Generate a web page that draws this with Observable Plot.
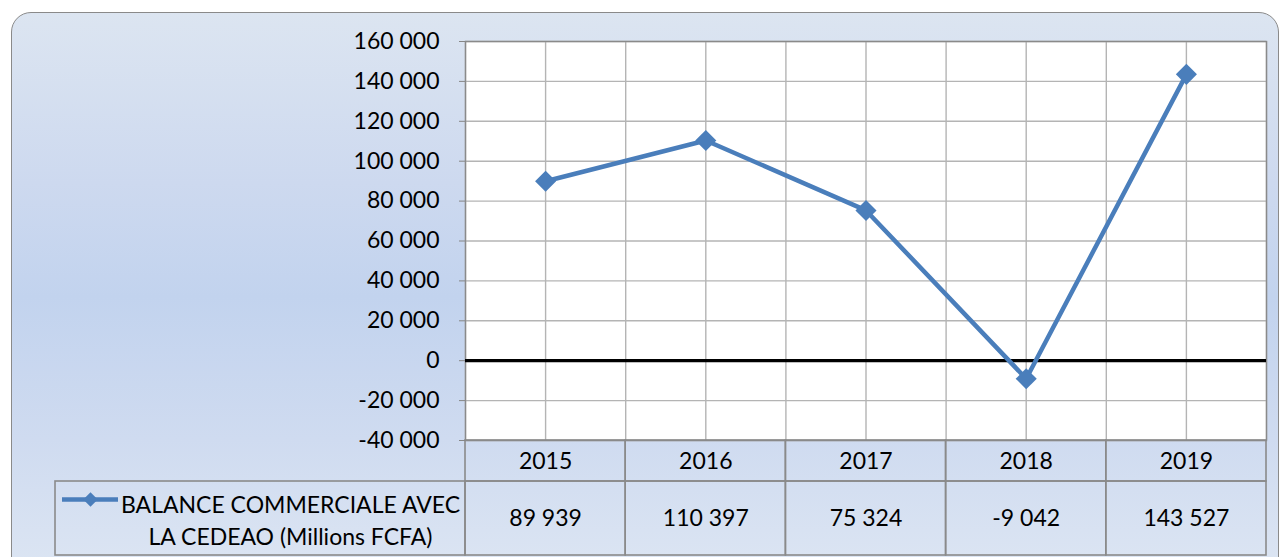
<!DOCTYPE html>
<html>
<head>
<meta charset="utf-8">
<script src="https://cdn.jsdelivr.net/npm/d3@7"></script>
<script src="https://cdn.jsdelivr.net/npm/@observablehq/plot@0.6"></script>
<style>
  html, body { margin: 0; padding: 0; background: #ffffff; }
  #wrap { position: relative; width: 1282px; height: 557px; overflow: hidden; }
  #panel {
    position: absolute; left: 11px; top: 12px; width: 1268px; height: 570px;
    box-sizing: border-box;
    border: 1.5px solid #8a8a8a; border-radius: 20px;
    background: linear-gradient(to bottom, #dce5f1 0%, #cdd9ef 30%, #c2d3ee 50%, #cfdbf0 75%, #dde6f3 100%);
  }
  #chart { position: absolute; left: 0; top: 0; }
</style>
</head>
<body>
<div id="wrap">
  <div id="panel"></div>
  <div id="chart"></div>
</div>
<script>
// ---- data ----
const years = ["2015", "2016", "2017", "2018", "2019"];
const values = [89939, 110397, 75324, -9042, 143527];
const yTicks = [-40000, -20000, 0, 20000, 40000, 60000, 80000, 100000, 120000, 140000, 160000];
const seriesLabel = "BALANCE COMMERCIALE AVEC\nLA CEDEAO (Millions FCFA)";

// ---- derived ----
const locale = d3.formatLocale({decimal: ",", thousands: "\u00a0", grouping: [3], currency: ["", ""], minus: "-"});
const fmt = locale.format(",d");
const rows = years.map((year, i) => ({year, i, value: values[i]}));
const yMin = yTicks[0];
const yMax = yTicks[yTicks.length - 1];
const gridPositions = years.flatMap((_, i) => [i - 0.5, i]).concat([years.length - 0.5]);

const blue = "#4a7ebb";
const gridColor = "#b4b4b4";
const borderColor = "#8a8a8a";

const chart = Plot.plot({
  width: 1282,
  height: 557,
  marginLeft: 465,
  marginRight: 16,
  marginTop: 41,
  marginBottom: 117,
  style: {background: "transparent", fontFamily: "Lato, 'Open Sans', sans-serif", fontSize: "23px", color: "black", overflow: "visible"},
  x: {domain: [-0.5, years.length - 0.5], axis: null},
  y: {domain: [yMin, yMax], axis: null},
  marks: [
    Plot.frame({fill: "white", stroke: null}),
    Plot.gridY(yTicks, {stroke: gridColor, strokeOpacity: 1, strokeWidth: 1.4}),
    Plot.gridX(gridPositions, {stroke: gridColor, strokeOpacity: 1, strokeWidth: 1.4}),
    Plot.frame({stroke: borderColor, strokeWidth: 1.4}),
    Plot.ruleY([0], {stroke: "black", strokeWidth: 3.2}),
    // data table: header cells
    Plot.rect(rows, {x1: d => d.i - 0.5, x2: d => d.i + 0.5, y1: yMin, y2: yMin, insetBottom: -41, stroke: borderColor, strokeWidth: 1.6, fill: "none"}),
    // data table: value cells
    Plot.rect(rows, {x1: d => d.i - 0.5, x2: d => d.i + 0.5, y1: yMin, y2: yMin, insetTop: 41, insetBottom: -115, stroke: borderColor, strokeWidth: 1.6, fill: "none"}),
    // legend cell
    Plot.rect([seriesLabel], {x1: -0.5, x2: -0.5, y1: yMin, y2: yMin, insetLeft: -410, insetTop: 41, insetBottom: -115, stroke: borderColor, strokeWidth: 1.6, fill: "none"}),
    Plot.axisY({ticks: yTicks, tickSize: 6, tickPadding: 20, tickFormat: fmt, label: null, stroke: "#868686", fill: "black", fontSize: 23}),
    // series
    Plot.line(rows, {x: "i", y: "value", stroke: blue, strokeWidth: 4.5, strokeLinejoin: "miter"}),
    Plot.dot(rows, {x: "i", y: "value", symbol: "diamond2", r: 9.5, fill: blue, stroke: null}),
    // table text
    Plot.text(rows, {x: "i", y: yMin, dy: 21, text: "year", fill: "black", fontSize: 23}),
    Plot.text(rows, {x: "i", y: yMin, dy: 78, text: d => fmt(d.value), fill: "black", fontSize: 23}),
    // legend
    Plot.ruleY([yMin], {x1: -0.5, x2: -0.5, insetLeft: -403, insetRight: 347, dy: 59, stroke: blue, strokeWidth: 4.5}),
    Plot.dot([yMin], {x: -0.5, y: d => d, dx: -375, dy: 59, symbol: "diamond2", r: 6.5, fill: blue, stroke: null}),
    Plot.text([seriesLabel], {x: -0.5, y: yMin, dx: -175, dy: 78, text: d => d, lineHeight: 1.43, fill: "black", fontSize: 23})
  ]
});
document.getElementById("chart").appendChild(chart);
</script>
</body>
</html>
